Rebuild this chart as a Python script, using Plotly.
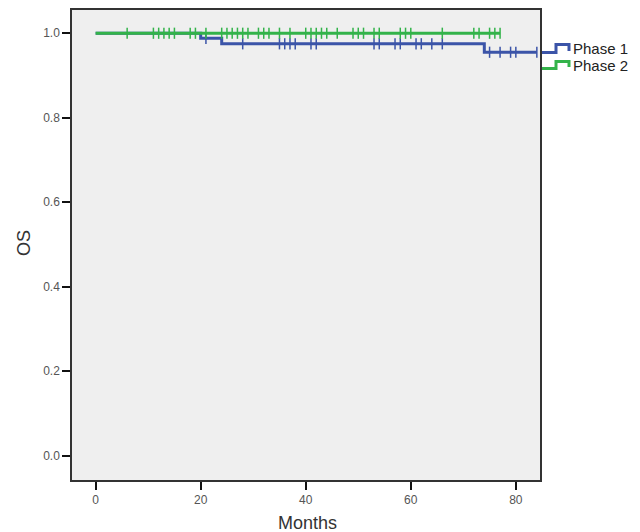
import numpy as np
import plotly.graph_objects as go

# Kaplan-Meier step data (months, survival)
phase1_times = [0, 20, 24, 74, 84]
phase1_surv = [1.0, 0.988, 0.975, 0.955, 0.955]
phase1_censor = [21, 28, 35, 36, 37, 38, 41, 42, 53, 54, 57, 58, 61, 62, 64, 66,
                 75, 77, 79, 80, 84]

phase2_times = [0, 77]
phase2_surv = [1.0, 1.0]
phase2_censor = [6, 11, 12, 13, 14, 15, 18, 19, 21, 24, 25, 26, 27, 28, 29, 31, 32,
                 33, 35, 37, 40, 41, 42, 43, 44, 46, 49, 50, 51, 53, 54, 58, 59, 60,
                 66, 72, 73, 75, 76, 77]

series_names = ["Phase 1", "Phase 2"]
x_ticks = [0, 20, 40, 60, 80]
y_ticks = [0.0, 0.2, 0.4, 0.6, 0.8, 1.0]

BLUE = "#3b54a8"
GREEN = "#33b34a"


def step_value(times, surv, t):
    idx = np.searchsorted(np.array(times), t, side="right") - 1
    return surv[max(idx, 0)]


fig = go.Figure()
for times, surv, cens, color, name in [
    (phase1_times, phase1_surv, phase1_censor, BLUE, series_names[0]),
    (phase2_times, phase2_surv, phase2_censor, GREEN, series_names[1]),
]:
    fig.add_trace(go.Scatter(x=times, y=surv, mode="lines", line_shape="hv",
                             line=dict(color=color, width=3), name=name,
                             showlegend=False, hoverinfo="skip"))
    fig.add_trace(go.Scatter(x=cens, y=[step_value(times, surv, t) for t in cens],
                             mode="markers",
                             marker=dict(symbol="line-ns-open", size=8, color=color,
                                         line=dict(color=color, width=1.5)),
                             showlegend=False, hoverinfo="skip"))

W, H = 640, 532
ML, MR, MT, MB = 72, 100, 10, 52
PW, PH = W - ML - MR, H - MT - MB


def px(x):
    return (x - ML) / PW


def py(y):
    return 1 - (y - MT) / PH


FONT = "Liberation Sans, Arial"

# custom step-shaped legend icons
for (ylow, yhigh, color, name, ytext) in [
    (52.5, 44.5, BLUE, series_names[0], 48.5),
    (68.5, 61.5, GREEN, series_names[1], 65.5),
]:
    path = (f"M {px(542)},{py(ylow)} L {px(556)},{py(ylow)} L {px(556)},{py(yhigh)} "
            f"L {px(569)},{py(yhigh)} L {px(569)},{py(ylow - 1.5)}")
    fig.add_shape(type="path", path=path, xref="paper", yref="paper",
                  line=dict(color=color, width=3))
    fig.add_annotation(text=name, x=px(571), y=py(ytext), xref="paper", yref="paper",
                       xanchor="left", yanchor="middle", showarrow=False,
                       font=dict(size=15, color="#222", family=FONT))

# axis titles
fig.add_annotation(text="Months", x=px(307), y=py(523), xref="paper", yref="paper",
                   xanchor="center", yanchor="middle", showarrow=False,
                   font=dict(size=18, color="#333", family=FONT))
fig.add_annotation(text="OS", x=px(24), y=py(243), xref="paper", yref="paper",
                   xanchor="center", yanchor="middle", showarrow=False, textangle=-90,
                   font=dict(size=18, color="#333", family=FONT))

fig.update_layout(
    width=W, height=H,
    margin=dict(l=ML, r=MR, t=MT, b=MB),
    paper_bgcolor="white", plot_bgcolor="#efefef",
    font=dict(family=FONT, color="#555"),
    xaxis=dict(range=[-4.5, 84.6], tickvals=x_ticks, ticks="outside", ticklen=8,
               tickwidth=2, tickcolor="#111", showgrid=False, zeroline=False,
               showline=True, mirror=True, linecolor="#333", linewidth=1.5,
               tickfont=dict(size=12, color="#555"), automargin=False),
    yaxis=dict(range=[-0.0575, 1.055], tickvals=y_ticks, tickformat=".1f",
               ticks="outside", ticklen=8, tickwidth=1.5, tickcolor="#111",
               showgrid=False, zeroline=False, showline=True, mirror=True,
               linecolor="#333", linewidth=1.5,
               tickfont=dict(size=12, color="#555"), automargin=False),
)

fig.write_html("out.html", config={"displayModeBar": False},
               post_script="document.body.style.margin='0';")
